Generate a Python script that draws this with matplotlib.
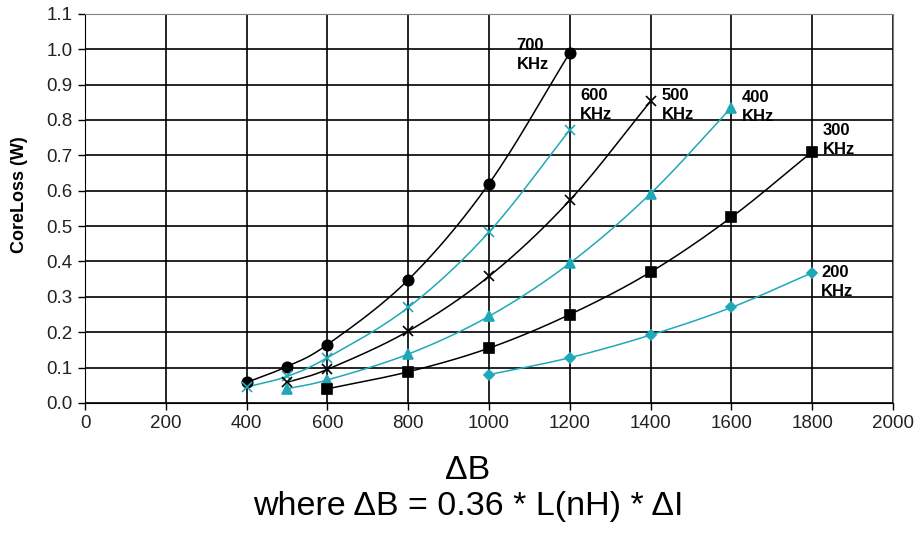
import numpy as np
import matplotlib
matplotlib.use("Agg")
import matplotlib.pyplot as plt

plt.rcParams['font.family'] = ['Liberation Sans', 'DejaVu Sans']

TEAL = '#1fa9b8'

freq_labels = ['700\nKHz', '600\nKHz', '500\nKHz', '400\nKHz', '300\nKHz', '200\nKHz']

x_700 = [400, 500, 600, 800, 1000, 1200]
y_700 = [0.058, 0.103, 0.165, 0.348, 0.62, 0.99]
x_600 = [400, 500, 600, 800, 1000, 1200]
y_600 = [0.045, 0.075, 0.128, 0.27, 0.483, 0.772]
x_500 = [500, 600, 800, 1000, 1200, 1400]
y_500 = [0.058, 0.095, 0.203, 0.358, 0.573, 0.853]
x_400 = [500, 600, 800, 1000, 1200, 1400, 1600]
y_400 = [0.04, 0.065, 0.138, 0.245, 0.395, 0.592, 0.835]
x_300 = [600, 800, 1000, 1200, 1400, 1600, 1800]
y_300 = [0.04, 0.088, 0.155, 0.25, 0.37, 0.525, 0.71]
x_200 = [1000, 1200, 1400, 1600, 1800]
y_200 = [0.08, 0.128, 0.192, 0.27, 0.368]

label_pos = [(1068, 1.032), (1225, 0.890), (1428, 0.890), (1626, 0.884), (1827, 0.791), (1822, 0.389)]


def smooth(xs, ys, n=30):
    # Catmull-Rom style rendering of a smoothed line through the points
    xs = np.asarray(xs, float); ys = np.asarray(ys, float)
    px = np.concatenate([[2*xs[0]-xs[1]], xs, [2*xs[-1]-xs[-2]]])
    py = np.concatenate([[2*ys[0]-ys[1]], ys, [2*ys[-1]-ys[-2]]])
    ox, oy = [], []
    t = np.linspace(0, 1, n)
    for i in range(1, len(px)-2):
        for arr, out in ((px, ox), (py, oy)):
            p0, p1, p2, p3 = arr[i-1], arr[i], arr[i+1], arr[i+2]
            out.extend(0.5*((2*p1) + (-p0+p2)*t + (2*p0-5*p1+4*p2-p3)*t**2 + (-p0+3*p1-3*p2+p3)*t**3))
    return ox, oy


series = [
    (x_700, y_700, 'black', 'o', 7.5),
    (x_600, y_600, TEAL, 'x', 7),
    (x_500, y_500, 'black', 'x', 7),
    (x_400, y_400, TEAL, '^', 7.5),
    (x_300, y_300, 'black', 's', 7),
    (x_200, y_200, TEAL, 'D', 5.5),
]

fig = plt.figure(figsize=(9.14, 5.33), dpi=100)
ax = fig.add_axes([0.093, 0.244, 0.884, 0.730])

for (xs, ys, c, m, ms), lab, (lx, ly) in zip(series, freq_labels, label_pos):
    sx, sy = smooth(xs, ys)
    ax.plot(sx, sy, color=c, lw=1.1, zorder=3)
    ax.plot(xs, ys, ls='none', marker=m, color=c, ms=ms, mew=1.2, zorder=4)
    ax.text(lx, ly, lab, ha='left', va='top', fontsize=12, fontweight='bold',
            linespacing=1.3, zorder=5)

ax.set_xlim(0, 2000)
ax.set_ylim(0, 1.1)
ax.set_xticks(np.arange(0, 2001, 200))
ax.set_yticks(np.arange(0, 1.101, 0.1))
ax.set_yticklabels([f'{v:.1f}' for v in np.arange(0, 1.101, 0.1)])
ax.grid(True, color='black', lw=1.2)
ax.set_axisbelow(True)
ax.tick_params(labelsize=13.5, labelcolor='#222222', length=5, width=1, color='black', pad=4)
for s in ('top', 'right'):
    ax.spines[s].set_color('#808080')
for s in ('left', 'bottom'):
    ax.spines[s].set_color('black')

ax.set_ylabel('CoreLoss (W)', fontsize=13, fontweight='bold')
ax.yaxis.set_label_coords(-0.070, 0.535)
fig.text(0.512, 0.118, 'ΔB', ha='center', va='center', fontsize=24.5)
fig.text(0.512, 0.050, 'where ΔB = 0.36 * L(nH) * ΔI', ha='center', va='center', fontsize=24.5)

fig.savefig('out.png', dpi=100)
